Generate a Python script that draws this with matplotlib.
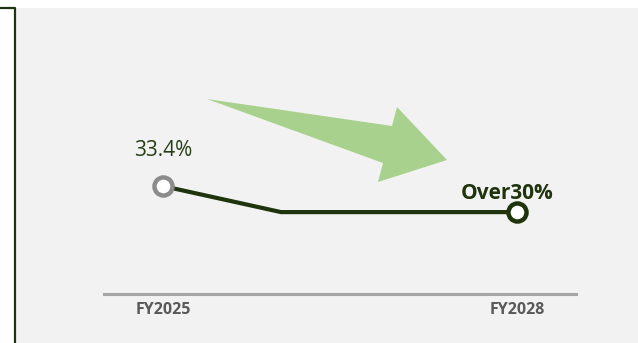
import matplotlib.pyplot as plt
from matplotlib.patches import Rectangle, Polygon
from matplotlib.lines import Line2D

plt.rcParams['font.family'] = ['Open Sans', 'DejaVu Sans']

years = ["FY2025", "FY2026", "FY2027", "FY2028"]
ratio = [33.4, 30.0, 30.0, 30.0]
shown_ticks = ["FY2025", "", "", "FY2028"]
point_labels = ["33.4%", None, None, "Over30%"]

W, H = 638, 343
fig = plt.figure(figsize=(W / 100, H / 100), dpi=100)
fig.patch.set_facecolor("white")


def px(x, y):
    # pixel position (from top-left) to figure fraction
    return (x / W, 1 - y / H)


# light panel and the dark bracket on its left edge
fig.patches.append(Rectangle(px(16, H), (W - 16) / W, (H - 8) / H,
                             transform=fig.transFigure, facecolor="#f2f2f2",
                             edgecolor="none", zorder=-2))
bx, by = zip(px(0, 8), px(14.5, 8), px(14.5, H))
fig.lines.append(Line2D(bx, by, transform=fig.transFigure,
                        color="#1e3311", lw=1.6, zorder=-1))

# big trend arrow behind the line
arrow = [px(207, 99), px(392, 126), px(397, 107), px(447, 160),
         px(378, 182), px(383, 163)]
fig.patches.append(Polygon(arrow, closed=True, transform=fig.transFigure,
                           facecolor="#a9d18e", edgecolor="none", zorder=-1))

ax = fig.add_axes([104 / W, 49 / H, 472 / W, 274 / H])
ax.set_facecolor("none")
x = list(range(len(years)))
ax.plot(x, ratio, color="#1f330c", lw=3, solid_capstyle="butt", zorder=3)
ax.plot(x[0], ratio[0], "o", ms=13, mew=3.2, mfc="white", mec="#8c8c8c", zorder=4)
ax.plot(x[-1], ratio[-1], "o", ms=13, mew=3.2, mfc="white", mec="#1f330c", zorder=4)

ax.annotate(point_labels[0], (x[0], ratio[0]), xytext=(0, 21.5),
            textcoords="offset points", ha="center", va="baseline",
            fontsize=15, color="#263d16")
ax.annotate(point_labels[-1], (x[-1], ratio[-1]), xytext=(-7, 9.5),
            textcoords="offset points", ha="center", va="baseline",
            fontsize=15, fontweight="bold", color="#1f330c")

ax.set_xlim(-0.5, 3.5)
ax.set_ylim(19.3, 55.1)
ax.set_yticks([])
ax.set_xticks(x)
ax.set_xticklabels(shown_ticks, fontsize=11.5, fontweight="bold", color="#595959")
ax.tick_params(axis="x", length=0, pad=6)
for side in ["left", "right", "top"]:
    ax.spines[side].set_visible(False)
ax.spines["bottom"].set_color("#a6a6a6")
ax.spines["bottom"].set_linewidth(2.2)

fig.savefig("out.png", dpi=100)
